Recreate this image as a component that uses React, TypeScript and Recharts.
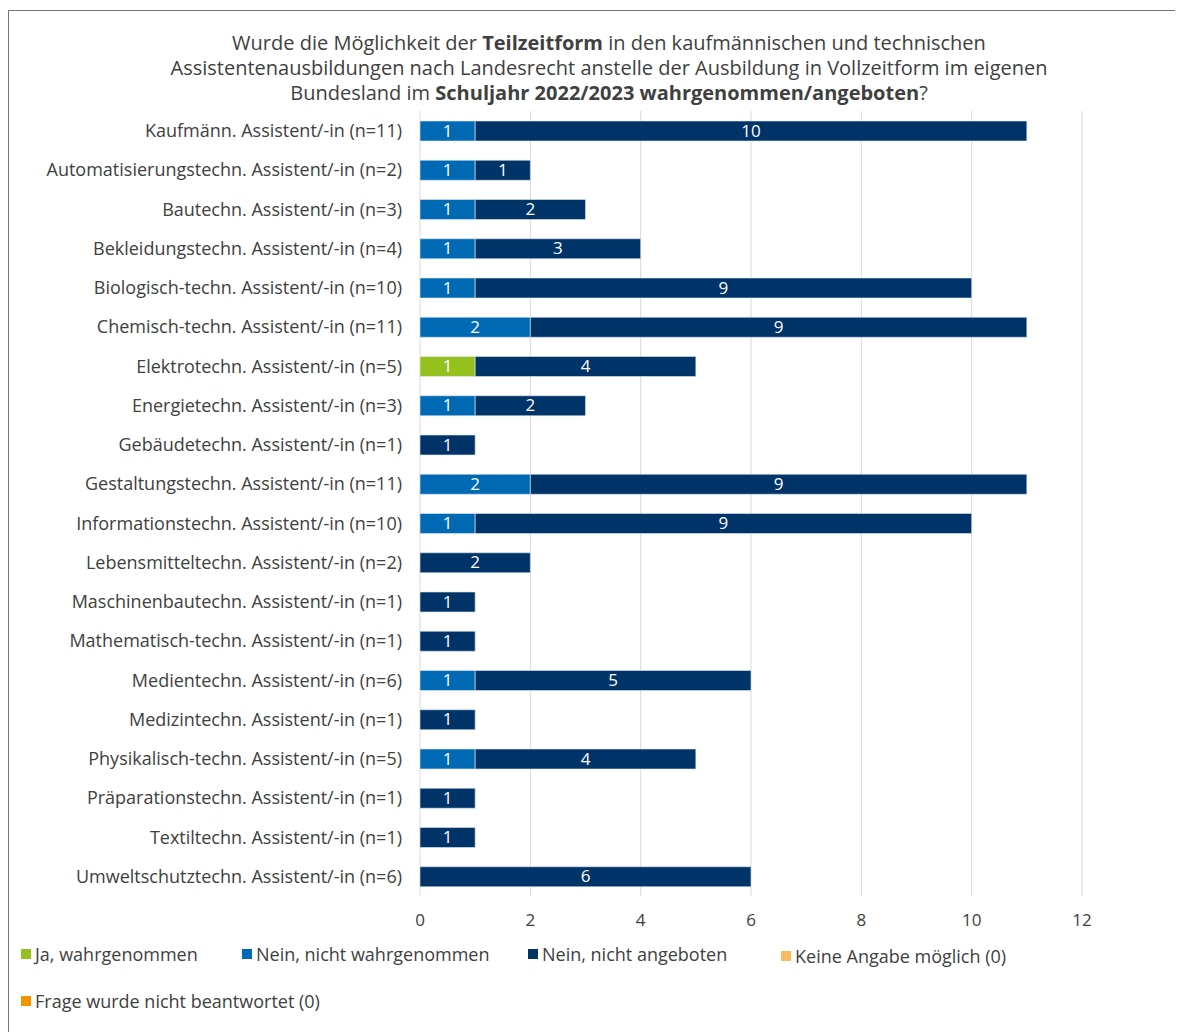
import React from 'react';
import { BarChart, Bar, XAxis, YAxis, CartesianGrid, LabelList } from 'recharts';

const categories = [
  'Kaufmänn. Assistent/-in (n=11)',
  'Automatisierungstechn. Assistent/-in (n=2)',
  'Bautechn. Assistent/-in (n=3)',
  'Bekleidungstechn. Assistent/-in (n=4)',
  'Biologisch-techn. Assistent/-in (n=10)',
  'Chemisch-techn. Assistent/-in (n=11)',
  'Elektrotechn. Assistent/-in (n=5)',
  'Energietechn. Assistent/-in (n=3)',
  'Gebäudetechn. Assistent/-in (n=1)',
  'Gestaltungstechn. Assistent/-in (n=11)',
  'Informationstechn. Assistent/-in (n=10)',
  'Lebensmitteltechn. Assistent/-in (n=2)',
  'Maschinenbautechn. Assistent/-in (n=1)',
  'Mathematisch-techn. Assistent/-in (n=1)',
  'Medientechn. Assistent/-in (n=6)',
  'Medizintechn. Assistent/-in (n=1)',
  'Physikalisch-techn. Assistent/-in (n=5)',
  'Präparationstechn. Assistent/-in (n=1)',
  'Textiltechn. Assistent/-in (n=1)',
  'Umweltschutztechn. Assistent/-in (n=6)',
];

const jaWahrgenommen = [0, 0, 0, 0, 0, 0, 1, 0, 0, 0, 0, 0, 0, 0, 0, 0, 0, 0, 0, 0];
const neinNichtWahrgenommen = [1, 1, 1, 1, 1, 2, 0, 1, 0, 2, 1, 0, 0, 0, 1, 0, 1, 0, 0, 0];
const neinNichtAngeboten = [10, 1, 2, 3, 9, 9, 4, 2, 1, 9, 9, 2, 1, 1, 5, 1, 4, 1, 1, 6];
const keineAngabe = [0, 0, 0, 0, 0, 0, 0, 0, 0, 0, 0, 0, 0, 0, 0, 0, 0, 0, 0, 0];
const nichtBeantwortet = [0, 0, 0, 0, 0, 0, 0, 0, 0, 0, 0, 0, 0, 0, 0, 0, 0, 0, 0, 0];

const xTicks = [0, 2, 4, 6, 8, 10, 12];

const series = [
  { key: 'ja', name: 'Ja, wahrgenommen', color: '#95c11f', values: jaWahrgenommen },
  { key: 'neinNW', name: 'Nein, nicht wahrgenommen', color: '#0069b4', values: neinNichtWahrgenommen },
  { key: 'neinNA', name: 'Nein, nicht angeboten', color: '#003468', values: neinNichtAngeboten },
  { key: 'keine', name: 'Keine Angabe möglich (0)', color: '#fdb95f', values: keineAngabe },
  { key: 'frage', name: 'Frage wurde nicht beantwortet (0)', color: '#f29400', values: nichtBeantwortet },
];

const data = categories.map((c, i) => {
  const row: any = { name: c };
  series.forEach(s => { row[s.key] = s.values[i] || null; });
  return row;
});

const FONT = '"Open Sans", "Noto Sans", sans-serif';
const TEXT = '#404040';

const renderLabel = (props: any) => {
  const { x, y, width, height, value } = props;
  if (!value) return null;
  return (
    <text x={x + width / 2} y={y + height / 2 + 1} fill="#fff" fontSize={17} fontFamily={FONT}
      textAnchor="middle" dominantBaseline="middle">{value}</text>
  );
};

const legendPos = [
  { left: 12, top: 931 },
  { left: 233, top: 931 },
  { left: 519, top: 931 },
  { left: 772, top: 933 },
  { left: 12, top: 978 },
];

export default function App() {
  return (
    <div style={{ position: 'relative', top: 2, width: 1190, height: 1040, border: '1px solid #767676', fontFamily: FONT, color: TEXT, background: '#fff' }}>
      <div style={{ position: 'absolute', left: 0, top: 19, width: 1200, textAlign: 'center', fontSize: 20, lineHeight: '25px' }}>
        Wurde die Möglichkeit der <b>Teilzeitform</b> in den kaufmännischen und technischen<br />
        Assistentenausbildungen nach Landesrecht anstelle der Ausbildung in Vollzeitform im eigenen<br />
        Bundesland im <b>Schuljahr 2022/2023 wahrgenommen/angeboten</b>?
      </div>
      <div style={{ position: 'absolute', left: 0, top: 0 }}>
        <BarChart width={1180} height={930} data={data} layout="vertical"
          margin={{ top: 100, right: 107, left: 0, bottom: 15 }} barSize={20}>
          <CartesianGrid horizontal={false} stroke="#d9d9d9" />
          <XAxis type="number" domain={[0, 12]} ticks={xTicks} axisLine={false} tickLine={false}
            tickMargin={12} height={30} tick={{ fontSize: 17, fill: TEXT, fontFamily: FONT }} />
          <YAxis type="category" dataKey="name" width={411} axisLine={false} tickLine={false}
            tickMargin={12} interval={0} tick={{ fontSize: 18, fill: TEXT, fontFamily: FONT }} />
          {series.map(s => (
            <Bar key={s.key} dataKey={s.key} name={s.name} stackId="a" fill={s.color}
              stroke="#dfe8f2" strokeWidth={0.6} isAnimationActive={false}>
              <LabelList dataKey={s.key} content={renderLabel} />
            </Bar>
          ))}
        </BarChart>
      </div>
      {series.map((s, i) => (
        <div key={s.key} style={{ position: 'absolute', left: legendPos[i].left, top: legendPos[i].top, fontSize: 18, display: 'flex', alignItems: 'center', whiteSpace: 'nowrap' }}>
          <span style={{ display: 'inline-block', width: 10, height: 10, background: s.color, marginRight: 4 }} />
          {s.name}
        </div>
      ))}
    </div>
  );
}
